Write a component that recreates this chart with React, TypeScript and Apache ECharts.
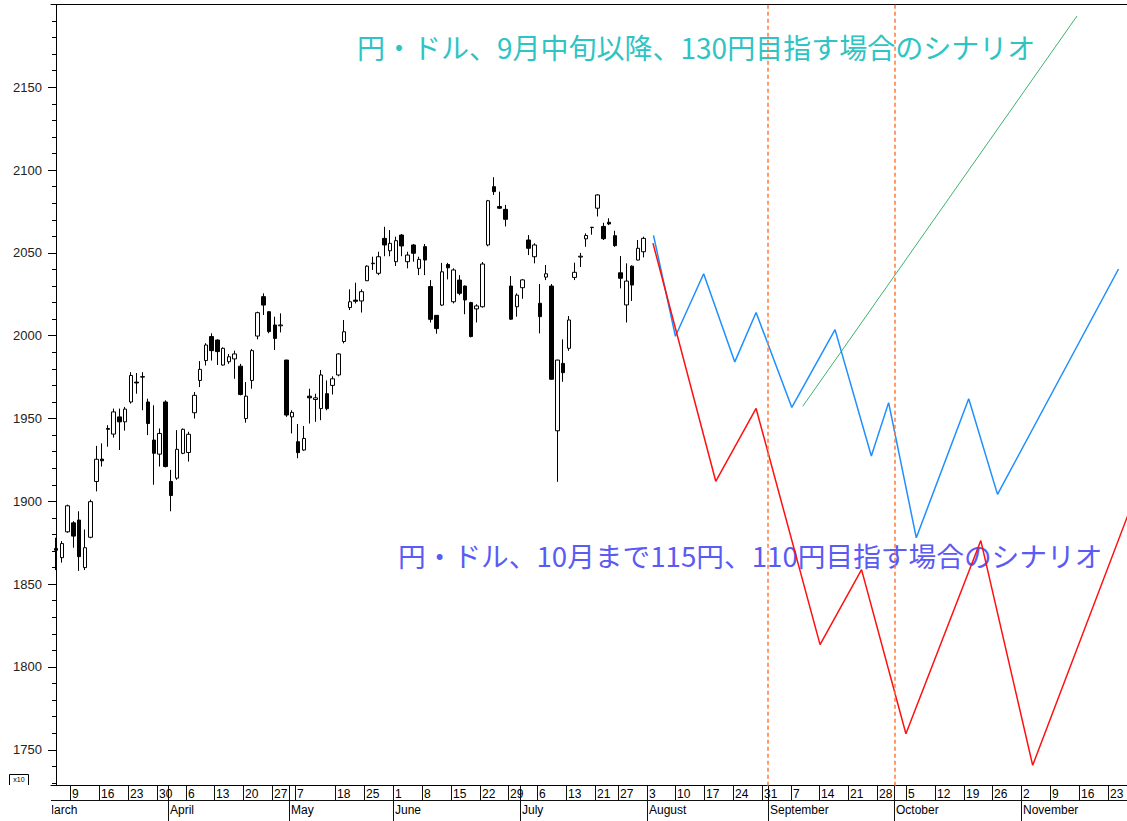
import React, { useEffect, useRef } from 'react';
import * as echarts from 'echarts';

// Daily candles [open, close, low, high] (index = trading-day slot, 0 = 2015-03-04), x10 units
const candles: number[][] = [
  [1871.5, 1870.5, 1858.5, 1878], [1866, 1874.5, 1863, 1876], [1881.6, 1897.3, 1881, 1898],
  [1887, 1879, 1872, 1888], [1888.7, 1866.6, 1858, 1894], [1860, 1872, 1858.5, 1883],
  [1878.3, 1899.8, 1877.7, 1901], [1912, 1925.4, 1906, 1933.5], [1925.5, 1924.5, 1921, 1935],
  [1944, 1943.5, 1933, 1946], [1940.6, 1954, 1938.5, 1956], [1951, 1948, 1931, 1956],
  [1948, 1955.7, 1942.7, 1957], [1960, 1976, 1959, 1978], [1972, 1971.5, 1965, 1977.5],
  [1975, 1975.3, 1955, 1978], [1960, 1947, 1940, 1962], [1937, 1929, 1910, 1958],
  [1928.5, 1941, 1921, 1944], [1960, 1921, 1920.5, 1961], [1912, 1903.5, 1894, 1919],
  [1914, 1931.4, 1913, 1943], [1929, 1943.5, 1928.5, 1944], [1929.5, 1940.5, 1924, 1942],
  [1953.5, 1964, 1950, 1966], [1973, 1979.7, 1969, 1984.7], [1985, 1994.4, 1982, 1995.5],
  [1999.5, 1991, 1985, 2001.5], [1997.4, 1990.4, 1982.3, 1997.8], [1982.3, 1992.4, 1982, 1993],
  [1984.3, 1987.3, 1983, 1989], [1986, 1989, 1974, 1991], [1981.6, 1964.5, 1964, 1983],
  [1950, 1963.5, 1947.5, 1972], [1973, 1991, 1968, 1992], [1999.8, 2013.9, 1997.8, 2014.5],
  [2023.6, 2018.5, 2012.5, 2025.6], [2014.5, 2002.5, 2001.5, 2014.8], [2006.5, 1998.4, 1991.4, 2011.5],
  [2006, 2006.5, 2002, 2013.5], [1985.3, 1952.1, 1951, 1985.5], [1951, 1953.7, 1941, 1955],
  [1936, 1929.4, 1926, 1946.7], [1931, 1938, 1930.5, 1945.5], [1963.5, 1962.5, 1947, 1968],
  [1961.5, 1962.5, 1948, 1965], [1956, 1976.3, 1949, 1979.3], [1965, 1956, 1955, 1973],
  [1970, 1974, 1964.5, 1975.5], [1976.3, 1989, 1975.5, 1989.5], [1996.5, 2002.4, 1995.4, 2009.5],
  [2017, 2020.5, 2015.5, 2028], [2021.5, 2020.8, 2019.5, 2032], [2021, 2026.6, 2014, 2028],
  [2033.2, 2042, 2033, 2042.5], [2043.5, 2043.8, 2039.7, 2047.7], [2037.7, 2047.7, 2036.6, 2050.7],
  [2058.8, 2054.8, 2048, 2065.8], [2051.3, 2055.8, 2048, 2063.8], [2044.7, 2057.4, 2042.1, 2059.8],
  [2060.8, 2054.2, 2048, 2061.4], [2044.7, 2048.7, 2040.7, 2050.7], [2054.8, 2049.8, 2044.7, 2055.4],
  [2040.7, 2046.1, 2036.6, 2047.7], [2053.8, 2045.7, 2036.6, 2055.4], [2029.7, 2009.9, 2008, 2033.6],
  [2012.3, 2004.3, 2001.2, 2012.5], [2018.5, 2038.6, 2018, 2044], [2043, 2041, 2034, 2044],
  [2020.5, 2039.7, 2019.5, 2040.7], [2033.6, 2025.6, 2024.5, 2036.6], [2030, 2021.6, 2013, 2030.3],
  [2020, 1999.5, 1999, 2020.5], [2016.2, 2018, 2008, 2019], [2017.5, 2043.3, 2017, 2044.5],
  [2054.8, 2081.5, 2054, 2082], [2090, 2087, 2085, 2095.7], [2078, 2077, 2076.5, 2087],
  [2076.3, 2070.3, 2066, 2079], [2030, 2010, 2009.5, 2036], [2017.5, 2024.5, 2011.5, 2025.6],
  [2029, 2033.7, 2022.3, 2034.3], [2057.8, 2052.8, 2048.7, 2060.8], [2047.7, 2054.8, 2043.7, 2055.8],
  [2019.6, 2011.5, 2001.4, 2031.2], [2035.4, 2037.4, 2033.6, 2042.7], [2030, 1973.7, 1973.5, 2031.2],
  [1942.6, 1985.3, 1911.8, 1985.5], [1983.3, 1977.7, 1972.2, 1997.8], [1992.4, 2009.5, 1990.9, 2011.9],
  [2035.2, 2038.3, 2033.6, 2044.1], [2047.5, 2048, 2041.5, 2050], [2058.5, 2060.5, 2053.7, 2061.8],
  [2065.3, 2065.5, 2061, 2065.7], [2077, 2085, 2072, 2085.5], [2066, 2058.6, 2057.8, 2068.2],
  [2068.5, 2067.5, 2066.8, 2070.9], [2060.4, 2054.4, 2053.7, 2063.4], [2038, 2034.7, 2028.6, 2048.1],
  [2018.6, 2033, 2008, 2043.7], [2042, 2030.6, 2021, 2042.5], [2045.7, 2052.8, 2045.5, 2057.8],
  [2050.7, 2058.8, 2047.3, 2059.8],
];

// Scenario paths [slot, value]
const blueScenario: number[][] = [
  [103.7, 2060.6], [107.5, 1999.7], [112.4, 2037.4], [117.8, 1984.2], [121.5, 2014.0],
  [127.7, 1956.7], [135.2, 2003.7], [141.5, 1927.4], [144.5, 1959.6], [149.3, 1878.0],
  [158.4, 1962.0], [163.4, 1904.2], [184.4, 2040.3],
];
const redScenario: number[][] = [
  [103.6, 2055.9], [114.5, 1912.1], [121.5, 1956.1], [132.6, 1813.5], [139.8, 1858.8],
  [147.5, 1759.7], [160.5, 1876.3], [169.5, 1740.6], [186.5, 1896.0],
];
const greenScenario: number[][] = [[129.6, 1957.4], [177.2, 2193.1]];

const dashedSlots = [123.5, 145.5];

const weekSlots = [3, 8, 13, 18, 23, 28, 33, 38, 42, 49, 54, 59, 64, 69, 74, 79, 84, 89, 94, 98,
  103, 108, 113, 118, 123, 128, 133, 138, 143, 148, 153, 158, 163, 168, 173, 178, 183];
const weekLabels = ['9', '16', '23', '30', '6', '13', '20', '27', '7', '18', '25', '1', '8', '15', '22', '29',
  '6', '13', '21', '27', '3', '10', '17', '24', '31', '7', '14', '21', '28', '5', '12', '19', '26', '2', '9', '16', '23'];
const monthSlots = [-2, 20, 41, 59, 81, 103, 124, 146, 168];
const monthNames = ['March', 'April', 'May', 'June', 'July', 'August', 'September', 'October', 'November'];

const yLabelValues = [1750, 1800, 1850, 1900, 1950, 2000, 2050, 2100, 2150];
const yTickValues = [1730, 1740, 1750, 1760, 1770, 1780, 1790, 1800, 1810, 1820, 1830, 1840, 1850, 1860,
  1870, 1880, 1890, 1900, 1910, 1920, 1930, 1940, 1950, 1960, 1970, 1980, 1990, 2000, 2010, 2020, 2030,
  2040, 2050, 2060, 2070, 2080, 2090, 2100, 2110, 2120, 2130, 2140, 2150, 2160, 2170, 2180, 2190];

const titleTop = '円・ドル、9月中旬以降、130円目指す場合のシナリオ';
const titleBottom = '円・ドル、10月まで115円、110円目指す場合のシナリオ';

const X_MIN = -0.868;
const X_MAX = 185.87;
const Y_MIN = 1728.3;
const Y_MAX = 2200;

export default function App() {
  const ref = useRef<HTMLDivElement>(null);
  useEffect(() => {
    if (!ref.current) return;
    const chart = echarts.init(ref.current, undefined, { renderer: 'svg' });
    const axisFont = 'Liberation Sans, Arial, sans-serif';
    const option: any = {
      animation: false,
      backgroundColor: '#ffffff',
      grid: { left: 51, right: 0, top: 4.5, bottom: 35.3, containLabel: false },
      xAxis: [
        {
          type: 'value', min: X_MIN, max: X_MAX, position: 'bottom',
          axisLine: { show: true, lineStyle: { color: '#000', width: 1 } },
          axisTick: { show: false }, axisLabel: { show: false }, splitLine: { show: false },
        },
        {
          type: 'value', min: X_MIN, max: X_MAX, position: 'top',
          axisLine: { show: true, lineStyle: { color: '#000', width: 1 } },
          axisTick: { show: false }, axisLabel: { show: false }, splitLine: { show: false },
        },
      ],
      yAxis: [
        {
          type: 'value', min: Y_MIN, max: Y_MAX, position: 'left',
          axisLine: { show: true, lineStyle: { color: '#000', width: 1 } },
          axisTick: { show: true, inside: false, length: 4, customValues: yTickValues, lineStyle: { color: '#000' } },
          axisLabel: { show: false },
          splitLine: { show: false },
        },
        {
          type: 'value', min: Y_MIN, max: Y_MAX, position: 'left',
          axisLine: { show: false },
          axisTick: { show: true, inside: false, length: 8, customValues: yLabelValues, lineStyle: { color: '#000' } },
          axisLabel: {
            show: true, customValues: yLabelValues, margin: 9, color: '#222',
            fontFamily: axisFont, fontSize: 13,
            formatter: (v: number) => String(Math.round(v)),
          },
          splitLine: { show: false },
        },
      ],
      series: [
        {
          type: 'candlestick',
          xAxisIndex: 0, yAxisIndex: 0,
          data: candles.map((c, i) => [i, c[0], c[1], c[2], c[3]]),
          encode: { x: 0, y: [1, 2, 3, 4] },
          barWidth: 4,
          itemStyle: {
            color: '#ffffff', color0: '#000000',
            borderColor: '#000000', borderColor0: '#000000', borderWidth: 1,
          },
          markLine: {
            silent: true, symbol: ['none', 'none'],
            label: { show: false },
            lineStyle: { color: '#ff7a3a', type: [4, 3], width: 1.5 },
            data: dashedSlots.map((s) => ({ xAxis: s })),
          },
        },
        {
          type: 'line', data: greenScenario, showSymbol: false, symbol: 'none',
          lineStyle: { color: '#3cb371', width: 1 }, clip: true,
        },
        {
          type: 'line', data: blueScenario, showSymbol: false, symbol: 'none',
          lineStyle: { color: '#1e8fff', width: 1.5 }, clip: true,
        },
        {
          type: 'line', data: redScenario, showSymbol: false, symbol: 'none',
          lineStyle: { color: '#ff1010', width: 1.5 }, clip: true,
        },
        {
          type: 'custom',
          xAxisIndex: 0, yAxisIndex: 0,
          data: weekSlots.map((s, i) => [s, i]),
          renderItem: (params: any, api: any) => {
            const s = api.value(0);
            const p = api.coord([s - 0.5, Y_MIN]);
            const x = Math.round(p[0]) + 0.5;
            const y0 = p[1];
            return {
              type: 'group',
              children: [
                { type: 'line', shape: { x1: x, y1: y0, x2: x, y2: y0 + 15 }, style: { stroke: '#111', lineWidth: 1 } },
                {
                  type: 'text',
                  style: {
                    text: weekLabels[params.dataIndex], x: x + 1.5, y: y0 + 8, verticalAlign: 'middle',
                    fontFamily: axisFont, fontSize: 12, fill: '#000',
                  },
                },
              ],
            };
          },
        },
        {
          type: 'custom',
          xAxisIndex: 0, yAxisIndex: 0,
          data: monthSlots.map((s, i) => [s, i]),
          renderItem: (params: any, api: any) => {
            const s = api.value(0);
            const p = api.coord([s - 0.5, Y_MIN]);
            const left = api.coord([X_MIN, Y_MIN])[0];
            const x = Math.round(p[0]) + 0.5;
            const y0 = p[1];
            const children: any[] = [
              {
                type: 'text',
                style: {
                  text: monthNames[params.dataIndex], x: x + 1.5, y: y0 + 24, verticalAlign: 'middle',
                  fontFamily: axisFont, fontSize: 12, fill: '#000',
                },
              },
            ];
            if (x > left) {
              children.push({ type: 'line', shape: { x1: x, y1: y0, x2: x, y2: y0 + 40 }, style: { stroke: '#111', lineWidth: 1 } });
            }
            return {
              type: 'group',
              clipPath: { type: 'rect', shape: { x: left + 1, y: y0, width: 2000, height: 60 } },
              children,
            };
          },
        },
      ],
      graphic: [
        { type: 'line', shape: { x1: 51, y1: 800.5, x2: 1127, y2: 800.5 }, style: { stroke: '#111', lineWidth: 1 } },
        { type: 'polyline', shape: { points: [[9.5, 785], [9.5, 774.5], [28.5, 774.5], [28.5, 785]] }, style: { stroke: '#000', fill: 'none', lineWidth: 1 } },
        { type: 'text', style: { text: 'x10', x: 19, y: 779, align: 'center', verticalAlign: 'middle', fontSize: 7, fontFamily: axisFont, fill: '#000' } },
        {
          type: 'text', x: 357, y: 47,
          style: { text: titleTop, verticalAlign: 'middle', fontFamily: 'Noto Sans CJK JP', fontSize: 28, fill: '#2ec4c4' },
        },
        {
          type: 'text', x: 398, y: 555,
          style: { text: titleBottom, verticalAlign: 'middle', fontFamily: 'Noto Sans CJK JP', fontSize: 27.7, fill: '#5a5af5' },
        },
      ],
    };
    chart.setOption(option);
    return () => chart.dispose();
  }, []);
  return (
    <div
      ref={ref}
      style={{ position: 'fixed', left: 0, top: 0, width: 1127, height: 821, background: '#fff' }}
    />
  );
}
